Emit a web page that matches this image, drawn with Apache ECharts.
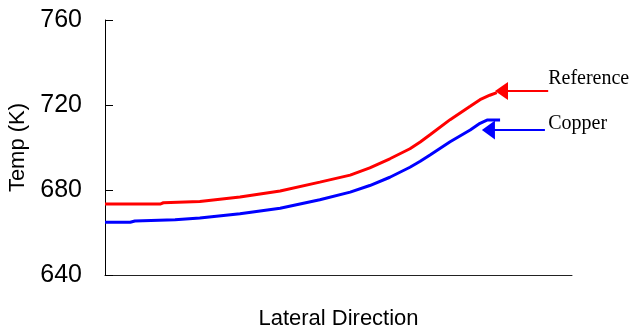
<!DOCTYPE html>
<html>
<head>
<meta charset="utf-8">
<style>
  html, body { margin: 0; padding: 0; background: #fff; }
  #chart { width: 634px; height: 331px; }
</style>
<script src="https://cdn.jsdelivr.net/npm/echarts@6/dist/echarts.min.js"></script>
</head>
<body>
<div id="chart"></div>
<script>
// Lateral position (arbitrary units, 0-100 across the plot)
const refX = [0, 11.8, 12.5, 20.3, 28.9, 37.5, 46.0, 52.5, 56.7, 61.0, 65.3, 67.5, 69.6, 73.9, 78.2, 80.3, 82.4, 83.9];
const refTemp = [673.4, 673.4, 674.0, 674.6, 676.7, 679.5, 683.7, 687.0, 690.4, 694.7, 699.4, 702.6, 706.0, 713.1, 719.4, 722.5, 724.6, 725.8];

const copperX = [0, 5.4, 6.4, 15.0, 20.3, 28.9, 37.5, 46.0, 52.5, 56.7, 61.0, 65.3, 67.5, 69.6, 73.9, 78.2, 80.3, 81.8, 84.6];
const copperTemp = [664.8, 664.8, 665.4, 666.0, 666.8, 668.8, 671.4, 675.4, 679.0, 682.1, 686.0, 690.7, 693.5, 696.5, 702.7, 708.2, 711.4, 712.9, 712.9];

const yTicks = [640, 680, 720, 760];
const seriesNames = ['Reference', 'Copper'];

const pairs = (xs, ys) => xs.map((x, i) => [x, ys[i]]);

// Annotation arrows: [shaft start x, arrowhead centre x, temperature]
const refArrow = [94.9, 84.9, 726.6];
const copperArrow = [94.2, 82.1, 708.2];
// Annotation text anchors: [x, temperature]
const refText = [94.9, 732.2];
const copperText = [94.9, 711.1];

const chart = echarts.init(document.getElementById('chart'));

function arrowMark(a, color, size) {
  return {
    silent: true,
    symbol: ['none', 'triangle'],
    symbolSize: size,
    lineStyle: { color: color, width: 2, type: 'solid' },
    label: { show: false },
    data: [[{ coord: [a[0], a[2]] }, { coord: [a[1], a[2]] }]]
  };
}

function textMark(t, name) {
  return {
    silent: true,
    symbol: 'circle',
    symbolSize: 0,
    label: {
      show: true,
      position: 'right',
      distance: 0,
      formatter: name,
      fontFamily: 'Liberation Serif',
      fontSize: 20,
      color: '#000'
    },
    data: [{ coord: t }]
  };
}

chart.setOption({
  animation: false,
  backgroundColor: '#fff',
  grid: { left: 105, right: 62, top: 20, bottom: 56, outerBoundsMode: 'none', containLabel: false },
  xAxis: {
    type: 'value',
    min: 0,
    max: 100,
    name: 'Lateral Direction',
    nameLocation: 'middle',
    nameGap: 33,
    nameTextStyle: { fontFamily: 'Liberation Sans', fontSize: 22, color: '#000' },
    axisLine: { show: true, lineStyle: { color: '#222', width: 1 } },
    axisTick: { show: false },
    axisLabel: { show: false },
    splitLine: { show: false }
  },
  yAxis: {
    type: 'value',
    min: yTicks[0],
    max: yTicks[yTicks.length - 1],
    interval: 40,
    name: 'Temp (K)',
    nameLocation: 'middle',
    nameGap: 76,
    nameTextStyle: { fontFamily: 'Liberation Sans', fontSize: 22, color: '#000' },
    axisLine: { show: true, lineStyle: { color: '#000', width: 1 } },
    axisTick: { show: true, inside: true, length: 8, lineStyle: { color: '#000', width: 1 } },
    axisLabel: { fontFamily: 'Liberation Sans', fontSize: 25, color: '#000', margin: 23 },
    splitLine: { show: false }
  },
  series: [
    {
      name: seriesNames[0],
      type: 'line',
      data: pairs(refX, refTemp),
      showSymbol: false,
      lineStyle: { color: '#ff0000', width: 3 },
      itemStyle: { color: '#ff0000' },
      markLine: arrowMark(refArrow, '#ff0000', [18, 13]),
      markPoint: textMark(refText, seriesNames[0])
    },
    {
      name: seriesNames[1],
      type: 'line',
      data: pairs(copperX, copperTemp),
      showSymbol: false,
      lineStyle: { color: '#0000ff', width: 3 },
      itemStyle: { color: '#0000ff' },
      markLine: arrowMark(copperArrow, '#0000ff', [19, 13]),
      markPoint: textMark(copperText, seriesNames[1])
    }
  ]
});
</script>
</body>
</html>
